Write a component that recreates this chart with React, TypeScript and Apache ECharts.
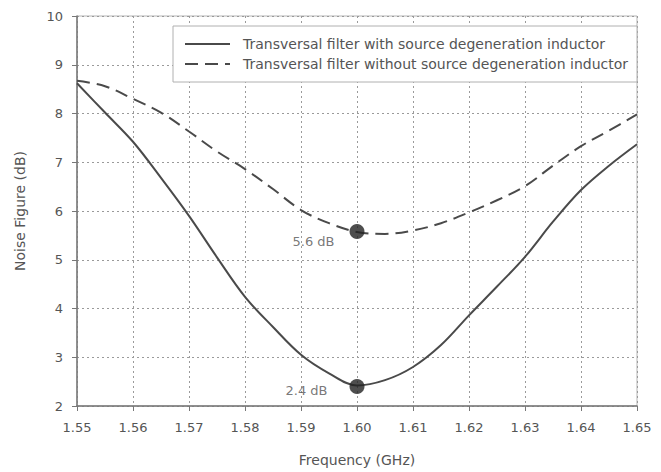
import React, { useEffect, useRef } from "react";
import * as echarts from "echarts";

const frequencies = [
  1.55, 1.555, 1.56, 1.565, 1.57, 1.575, 1.58, 1.585, 1.59, 1.595, 1.6,
  1.605, 1.61, 1.615, 1.62, 1.625, 1.63, 1.635, 1.64, 1.645, 1.65,
];
const withInductor = [
  8.62, 8.02, 7.42, 6.68, 5.9, 5.05, 4.24, 3.62, 3.05, 2.67, 2.42,
  2.53, 2.8, 3.25, 3.86, 4.45, 5.06, 5.78, 6.43, 6.93, 7.37,
];
const withoutInductor = [
  8.67, 8.56, 8.3, 8.02, 7.63, 7.22, 6.86, 6.45, 6.02, 5.75, 5.57,
  5.53, 5.6, 5.75, 5.97, 6.22, 6.51, 6.93, 7.33, 7.65, 7.98,
];
const seriesNames = [
  "Transversal filter with source degeneration inductor",
  "Transversal filter without source degeneration inductor",
];
const markerFreq = [1.6, 1.6];
const markerValues = [5.58, 2.4];
const markerLabels = ["5.6 dB", "2.4 dB"];

const FONT = "DejaVu Sans, Liberation Sans, Arial, sans-serif";

export default function App() {
  const ref = useRef<HTMLDivElement>(null);
  useEffect(() => {
    if (!ref.current) return;
    const chart = echarts.init(ref.current, undefined, { renderer: "svg" });
    const lineColor = "#4a4a4a";
    chart.setOption({
      animation: false,
      backgroundColor: "#ffffff",
      textStyle: { fontFamily: FONT },
      grid: {
        left: 77,
        right: 24,
        top: 16,
        bottom: 64,
        show: true,
        borderColor: "#b5b5b5",
        borderWidth: 1,
      },
      legend: {
        left: 173,
        top: 26,
        orient: "vertical",
        data: seriesNames,
        itemWidth: 45,
        itemHeight: 14,
        itemGap: 6,
        borderColor: "#b0b0b0",
        borderWidth: 1,
        padding: [11, 9, 11, 11],
        backgroundColor: "#ffffff",
        itemStyle: { opacity: 0 },
        textStyle: { fontSize: 14, color: "#555", fontFamily: FONT, padding: [0, 0, 0, 8] },
      },
      xAxis: {
        type: "value",
        min: 1.55,
        max: 1.65,
        interval: 0.01,
        name: "Frequency (GHz)",
        nameLocation: "middle",
        nameGap: 47,
        nameTextStyle: { fontSize: 14, color: "#555", fontFamily: FONT },
        axisLine: { show: true, lineStyle: { color: "#777", width: 1.5 } },
        axisTick: { show: true, inside: false, length: 5, lineStyle: { color: "#777" } },
        axisLabel: {
          fontSize: 13,
          color: "#555",
          margin: 15,
          formatter: (v: number) => v.toFixed(2),
        },
        splitLine: { show: true, lineStyle: { color: "#9a9a9a", type: [2, 3], width: 1 } },
      },
      yAxis: {
        type: "value",
        min: 2,
        max: 10,
        interval: 1,
        name: "Noise Figure (dB)",
        nameLocation: "middle",
        nameGap: 50,
        nameTextStyle: { fontSize: 14, color: "#555", fontFamily: FONT },
        axisLine: { show: true, lineStyle: { color: "#777", width: 1.5 } },
        axisTick: { show: true, inside: false, length: 5, lineStyle: { color: "#777" } },
        axisLabel: { fontSize: 13, color: "#555", margin: 14 },
        splitLine: { show: true, lineStyle: { color: "#9a9a9a", type: [2, 3], width: 1 } },
      },
      series: [
        {
          name: seriesNames[0],
          type: "line",
          smooth: 0.35,
          symbol: "none",
          data: frequencies.map((f, i) => [f, withInductor[i]]),
          lineStyle: { color: lineColor, width: 2, type: "solid" },
          itemStyle: { color: lineColor },
          z: 3,
        },
        {
          name: seriesNames[1],
          type: "line",
          smooth: 0.35,
          symbol: "none",
          data: frequencies.map((f, i) => [f, withoutInductor[i]]),
          lineStyle: { color: lineColor, width: 2, type: [13, 7] },
          itemStyle: { color: lineColor },
          z: 3,
        },
        {
          name: "markers",
          type: "scatter",
          symbol: "circle",
          symbolSize: 15,
          itemStyle: { color: "#222" },
          z: 5,
          data: markerFreq.map((f, i) => ({
            value: [f, markerValues[i]],
            label: {
              show: true,
              formatter: markerLabels[i],
              position: "left",
              distance: i === 0 ? 15 : 22,
              offset: i === 0 ? [0, 10] : [0, 4],
              fontSize: 13,
              color: "#555",
              fontFamily: FONT,
            },
          })),
        },
      ],
    });
    return () => chart.dispose();
  }, []);
  return (
    <div
      ref={ref}
      style={{ position: "fixed", left: 0, top: 0, width: 661, height: 472, background: "#fff" }}
    />
  );
}
